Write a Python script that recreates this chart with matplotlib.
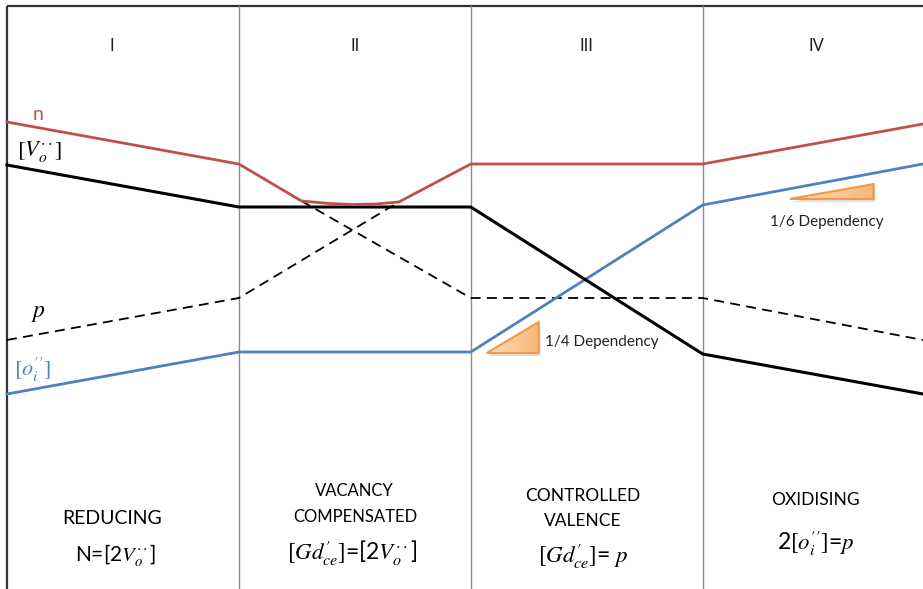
import matplotlib

matplotlib.use("Agg")
import matplotlib.pyplot as plt
import numpy as np
from matplotlib.colors import LinearSegmentedColormap
from matplotlib.patches import Polygon

plt.rcParams["font.family"] = ["Lato", "DejaVu Sans"]
plt.rcParams["mathtext.fontset"] = "stix"

# x: log pO2 in region widths (boundaries at 0, 1, 2, 3); y: log concentration (arb.)
x_max = 3.95
bounds = [1, 2, 3]

n_x = [0, 1, 1.27, 1.39, 1.49, 1.59, 1.69, 2, 3, x_max]
n_y = [467, 425, 388, 385.5, 384.5, 385, 387, 425, 425, 465]

vo_x = [0, 1, 2, 3, x_max]
vo_y = [424, 382, 382, 235, 195]

# hole concentration, drawn as two dashed branches crossing in region II
p1_x = [0, 1, 1.69]
p1_y = [249, 291, 387]
p2_x = [1.27, 2, 3, x_max]
p2_y = [388, 291, 291, 249]

oi_x = [0, 1, 2, 3, x_max]
oi_y = [195, 237, 237, 384, 425]

region_names = ["I", "II", "III", "IV"]
region_x = [0.45, 1.5, 2.5, 3.49]

tri_quarter = [(2.069, 236), (2.293, 267), (2.293, 236)]
tri_sixth = [(3.375, 390), (3.737, 405), (3.737, 390)]

RED = "#C0504D"
BLUE = "#4F81BD"
ORANGE = "#F79646"

fig = plt.figure(figsize=(9.23, 5.89), dpi=100)
ax = fig.add_axes([0, 0, 1, 1])
ax.set_xlim(-0.03, x_max)
ax.set_ylim(0, 589)
ax.axis("off")

# frame: top rule, left rule and the region separators
ax.plot([0, x_max], [583, 583], color="#333333", lw=1.6, solid_capstyle="butt")
ax.plot([0, 0], [0, 583], color="#333333", lw=1.6, solid_capstyle="butt")
for b in bounds:
    ax.plot([b, b], [0, 583], color="#8c8c8c", lw=1.0)

ax.plot(p1_x, p1_y, color="black", lw=1.3, ls=(0, (5.5, 3.5)))
ax.plot(p2_x, p2_y, color="black", lw=1.3, ls=(0, (5.5, 3.5)))
ax.plot(oi_x, oi_y, color=BLUE, lw=2.0)
ax.plot(vo_x, vo_y, color="black", lw=2.2)
ax.plot(n_x, n_y, color=RED, lw=2.0)

# slope markers with an orange gradient fill
cmap = LinearSegmentedColormap.from_list("tri", ["#FDE0C4", "#F9B676"])
for tri in (tri_quarter, tri_sixth):
    pts = np.array(tri)
    shadow = Polygon(pts + [0.008, -3], closed=True, fc="#bbbbbb", ec="none", alpha=0.45)
    ax.add_patch(shadow)
    poly = Polygon(pts, closed=True, fc="none", ec=ORANGE, lw=1.5, zorder=4)
    ax.add_patch(poly)
    x0, x1 = pts[:, 0].min(), pts[:, 0].max()
    y0, y1 = pts[:, 1].min(), pts[:, 1].max()
    grad = np.linspace(0, 1, 64).reshape(1, -1)
    im = ax.imshow(grad, extent=[x0, x1, y0, y1], cmap=cmap, aspect="auto", zorder=3, origin="lower")
    im.set_clip_path(poly)

ax.text(2.319, 247, "1/4 Dependency", fontsize=11, color="#222222", ha="left", va="center")
ax.text(3.289, 367, "1/6 Dependency", fontsize=11, color="#222222", ha="left", va="center")

# curve labels
ax.text(0.134, 475, "n", fontsize=14, color=RED, ha="center", va="center")
ax.text(0.142, 437, r"$[V_o^{\cdot\cdot}]$", fontsize=16, color="black", ha="center", va="center")
ax.text(0.134, 276, r"$p$", fontsize=17, color="black", ha="center", va="center")
ax.text(0.112, 219, r"$[o_i^{\prime\prime}]$", fontsize=16, color=BLUE, ha="center", va="center")

for name, xc in zip(region_names, region_x):
    ax.text(xc, 543, name, fontsize=12, color="#222222", ha="center", va="center")

# regime descriptions along the bottom
ax.text(0.453, 71, "REDUCING", fontsize=14, ha="center", va="center")
ax.text(0.47, 33, r"N=[2$V_o^{\cdot\cdot}$]", fontsize=15, ha="center", va="center")

ax.text(1.5, 98, "VACANCY", fontsize=12, ha="center", va="center")
ax.text(1.5, 72, "COMPENSATED", fontsize=12, ha="center", va="center")
ax.text(1.487, 36, r"$[Gd_{ce}^{\prime}]$=[2$V_o^{\cdot\cdot}$]", fontsize=16.5, ha="center", va="center")

ax.text(2.483, 93, "CONTROLLED", fontsize=12.5, ha="center", va="center")
ax.text(2.483, 68, "VALENCE", fontsize=12.5, ha="center", va="center")
ax.text(2.483, 33, r"$[Gd_{ce}^{\prime}]$= $p$", fontsize=16.5, ha="center", va="center")

ax.text(3.487, 89, "OXIDISING", fontsize=12.5, ha="center", va="center")
ax.text(3.487, 46, r"2$[o_i^{\prime\prime}]$=$p$", fontsize=16.5, ha="center", va="center")

fig.savefig("out.png", dpi=100)
